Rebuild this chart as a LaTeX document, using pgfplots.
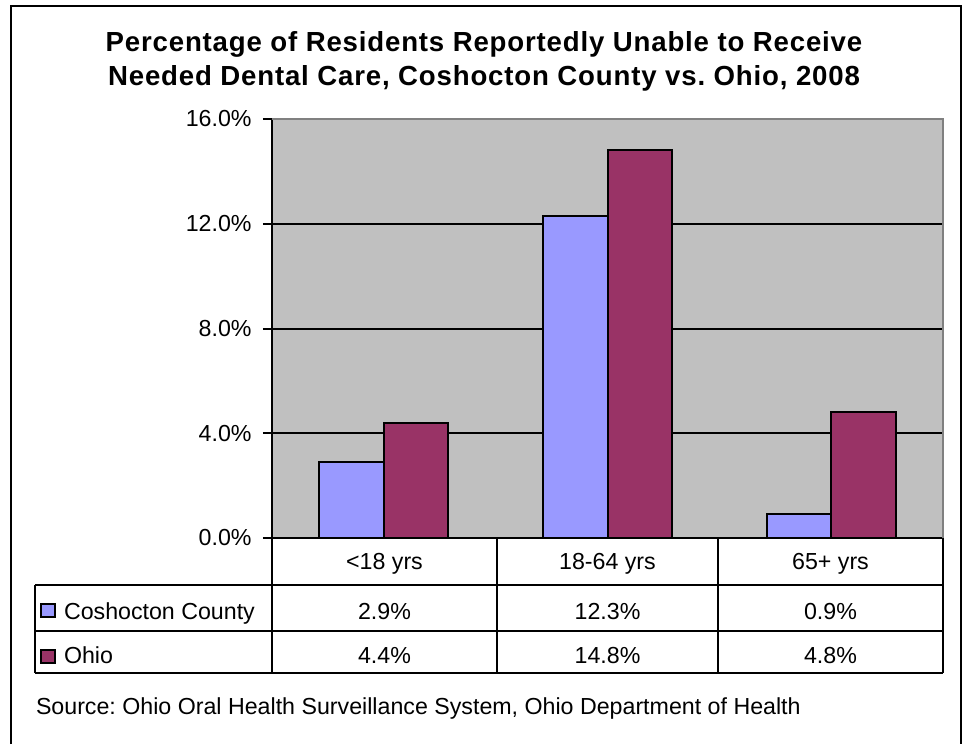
\documentclass[border=0pt]{standalone}
\usepackage{pgfplots}
\pgfplotsset{compat=1.18}
\usepackage{fontspec}
\setmainfont{Liberation Sans}
\newfontfamily\titlefont[LetterSpace=3]{Liberation Sans}
\definecolor{cblue}{HTML}{9999FF}
\definecolor{cpurp}{HTML}{993366}
\definecolor{pgray}{HTML}{C0C0C0}
\definecolor{bgray}{HTML}{808080}
\newcommand{\bodyfont}{\fontsize{11.6}{14}\selectfont}
\frenchspacing
\begin{document}
\frenchspacing
\begin{tikzpicture}
\begin{scope}[x=0.5pt,y=-0.5pt]
\useasboundingbox (0,0) rectangle (965,744);
\end{scope}
\begin{axis}[
  at={(136pt,-269pt)}, anchor=south west,
  scale only axis, width=335.5pt, height=209.5pt,
  xmin=-0.5, xmax=2.5, ymin=0, ymax=16,
  axis background/.style={fill=pgray},
  axis x line*=bottom, axis y line*=left,
  axis line style={line width=1pt, black, -},
  xtick=\empty,
  ytick={0,4,8,12,16},
  ymajorgrids, grid style={black, line width=1pt},
  tick style={black, line width=1pt},
  major tick length=4.5pt,
  tick align=outside,
  yticklabel={\pgfmathprintnumber[fixed,fixed zerofill,precision=1]{\tick}\%},
  /pgf/number format/assume math mode=true,
  ticklabel style={font=\bodyfont},
  yticklabel style={anchor=east, inner sep=0pt, xshift=-5.5pt},
  ybar, bar width=0.289,
  clip=false,
]
\addplot[fill=cblue, draw=black, line width=1pt, bar shift=-0.1445] coordinates {(0,2.9) (1,12.3) (2,0.9)};
\addplot[fill=cpurp, draw=black, line width=1pt, bar shift=0.1445] coordinates {(0,4.4) (1,14.8) (2,4.8)};
\draw[bgray, line width=1pt] (rel axis cs:0,1) -- (rel axis cs:1,1) -- (rel axis cs:1,0);
\end{axis}
\begin{scope}[x=0.5pt,y=-0.5pt, line width=1pt]
% outer border
\draw (11,744) -- (11,6) -- (961,6) -- (961,744);
% title
\node[anchor=base, inner sep=0pt, font={\titlefont\bfseries\fontsize{13.8}{16}\selectfont\frenchspacing}] at (484,51) {Percentage of Residents Reportedly Unable to Receive};
\node[anchor=base, inner sep=0pt, font={\titlefont\bfseries\fontsize{13.8}{16}\selectfont\frenchspacing}] at (484,85) {Needed Dental Care, Coshocton County vs. Ohio, 2008};
% data table
\draw (272,538) -- (272,673);
\draw (497,538) -- (497,673);
\draw (718,538) -- (718,673);
\draw (943,538) -- (943,673);
\draw (35,585) -- (943,585);
\draw (35,631) -- (943,631);
\draw (35,673) -- (943,673);
\draw (35,585) -- (35,673);
\begin{scope}[every node/.style={anchor=base, inner sep=0pt, font=\bodyfont\frenchspacing}]
\node at (384.5,569) {<18 yrs};
\node at (607.5,569) {18-64 yrs};
\node at (830.5,569) {65+ yrs};
\node at (384.5,619.5) {2.9\%};
\node at (607.5,619.5) {12.3\%};
\node at (830.5,619.5) {0.9\%};
\node at (384.5,663) {4.4\%};
\node at (607.5,663) {14.8\%};
\node at (830.5,663) {4.8\%};
\node[anchor=base west] at (63,619.5) {Coshocton County};
\node[anchor=base west] at (63,663) {Ohio};
\node[anchor=base west] at (35,714) {Source: Ohio Oral Health Surveillance System, Ohio Department of Health};
\end{scope}
\filldraw[fill=cblue, draw=black, line width=0.75pt] (41,604) rectangle (55,617);
\filldraw[fill=cpurp, draw=black, line width=0.75pt] (41,650) rectangle (55,663);
\end{scope}
\end{tikzpicture}
\end{document}
